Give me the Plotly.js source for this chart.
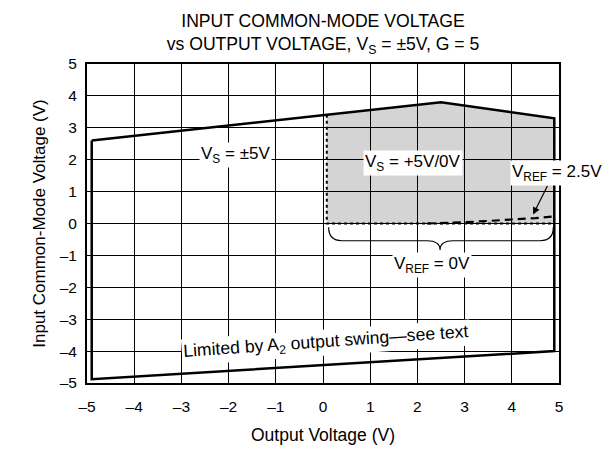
<!DOCTYPE html>
<html><head><meta charset="utf-8">
<script src="https://cdn.plot.ly/plotly-3.0.1.min.js"></script>
<style>body{margin:0;padding:0;background:#fff}#chart{width:613px;height:449px}</style>
</head><body><div id="chart"></div>
<script>
// Outer boundary, VS = ±5V
const outerX = [-4.9, 2.5, 4.9, 4.9, -4.9, -4.9];
const outerY = [2.6, 3.8, 3.3, -4.0, -4.88, 2.6];
// Shaded region, VS = +5V/0V, VREF = 0V
const shadeX = [0.08, 2.5, 4.9, 4.9, 0.08, 0.08];
const shadeY = [3.41, 3.8, 3.3, 0, 0, 3.41];
// Dotted edge of VREF = 0V region
const dotX = [0.08, 0.08, 4.9];
const dotY = [3.41, 0, 0];
// VREF = 2.5V lower limit (dashed)
const refX = [2.2, 2.5, 3.0, 3.5, 4.0, 4.5, 4.9];
const refY = [0.0, 0.01, 0.04, 0.08, 0.12, 0.17, 0.22];
const xTicks = [-5, -4, -3, -2, -1, 0, 1, 2, 3, 4, 5];
const yTicks = [-5, -4, -3, -2, -1, 0, 1, 2, 3, 4, 5];

const font = {family: 'Liberation Sans, Arial, sans-serif', color: '#000'};
const f = s => Object.assign({}, font, {size: s});
const traces = [
  {x: shadeX, y: shadeY, type: 'scatter', mode: 'lines', fill: 'toself',
   fillcolor: 'rgba(0,0,0,0.17)', line: {width: 0}, hoverinfo: 'skip'},
  {x: outerX, y: outerY, type: 'scatter', mode: 'lines', line: {color: '#000', width: 2.5}},
  {x: dotX, y: dotY, type: 'scatter', mode: 'lines', line: {color: '#000', width: 2, dash: 'dot'}},
  {x: refX, y: refY, type: 'scatter', mode: 'lines', line: {color: '#000', width: 2.2, dash: '8px,5px'}}
];
const ann = (x, y, text, extra) => Object.assign({x, y, xref: 'x', yref: 'y', text, showarrow: false,
  bgcolor: '#fff', font: f(17), borderpad: 1}, extra || {});
const layout = {
  width: 613, height: 449,
  margin: {l: 87, r: 54, t: 64, b: 66},
  paper_bgcolor: '#fff', plot_bgcolor: '#fff',
  showlegend: false,
  font: f(15),
  title: {text: 'INPUT COMMON-MODE VOLTAGE<br>vs OUTPUT VOLTAGE, V<sub>S</sub> = ±5V, G = 5',
    font: f(17.6), x: 323 / 613, xanchor: 'center',
    y: 0.94, yanchor: 'top', yref: 'container'},
  xaxis: {range: [-5, 5], tickvals: xTicks, ticktext: xTicks.map(v => v < 0 ? '–' + (-v) : String(v)),
    showgrid: true, gridcolor: '#000', gridwidth: 1, zeroline: false,
    showline: true, linecolor: '#000', linewidth: 2, mirror: true, ticks: '',
    ticklabelstandoff: 8,
    tickfont: f(15.5),
    title: {text: 'Output Voltage (V)', font: f(17.5), standoff: 15}},
  yaxis: {range: [-5, 5], tickvals: yTicks, ticktext: yTicks.map(v => v < 0 ? '–' + (-v) : String(v)),
    showgrid: true, gridcolor: '#000', gridwidth: 1, zeroline: false,
    showline: true, linecolor: '#000', linewidth: 2, mirror: true, ticks: '',
    ticklabelstandoff: 5,
    tickfont: f(15.5),
    title: {text: 'Input Common-Mode Voltage (V)', font: f(17), standoff: 10}},
  shapes: [
    {type: 'path', xref: 'x', yref: 'y', layer: 'above', line: {color: '#000', width: 1.2},
     path: 'M 0.12,-0.12 Q 0.12,-0.54 0.4,-0.54 L 2.2,-0.54 Q 2.48,-0.54 2.48,-0.83 Q 2.48,-0.54 2.76,-0.54 L 4.6,-0.54 Q 4.88,-0.54 4.88,-0.12'}
  ],
  annotations: [
    ann(-1.86, 2.15, 'V<sub>S</sub> = ±5V'),
    ann(1.91, 1.9, 'V<sub>S</sub> = +5V/0V'),
    ann(4.95, 1.58, 'V<sub>REF</sub> = 2.5V'),
    ann(2.31, -1.3, 'V<sub>REF</sub> = 0V'),
    ann(0.06, -3.72, 'Limited by A<sub>2</sub> output swing—see text', {textangle: -4, font: f(17.6)}),
    {x: 4.45, y: 0.28, xref: 'x', yref: 'y', ax: 4.77, ay: 1.22, axref: 'x', ayref: 'y',
     text: '', showarrow: true, arrowhead: 2, arrowsize: 1.2, arrowwidth: 1.2, arrowcolor: '#000'}
  ]
};
Plotly.newPlot('chart', traces, layout, {staticPlot: true, displayModeBar: false});
</script></body></html>
